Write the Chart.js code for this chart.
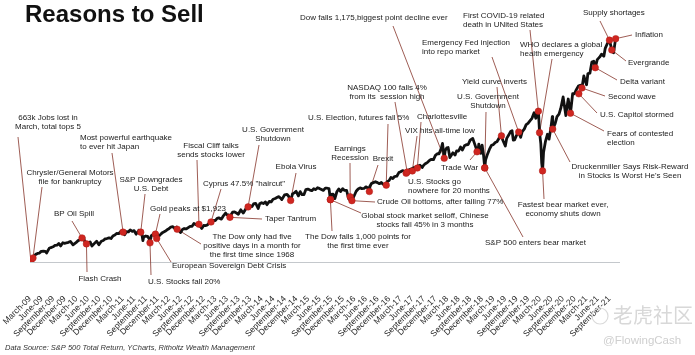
<!DOCTYPE html>
<html>
<head>
<meta charset="utf-8">
<script src="https://cdn.jsdelivr.net/npm/chart.js@4.4.0/dist/chart.umd.min.js"></script>
<style>
html,body{margin:0;padding:0;background:#fff;}
#wrap{width:695px;height:355px;position:relative;}
</style>
</head>
<body>
<div id="wrap"><canvas id="c"></canvas></div>
<script>
// ---------- DATA ----------
const quarterLabels = [
 "March-09","June-09","September-09","December-09",
 "March-10","June-10","September-10","December-10",
 "March-11","June-11","September-11","December-11",
 "March-12","June-12","September-12","December-12",
 "March-13","June-13","September-13","December-13",
 "March-14","June-14","September-14","December-14",
 "March-15","June-15","September-15","December-15",
 "March-16","June-16","September-16","December-16",
 "March-17","June-17","September-17","December-17",
 "March-18","June-18","September-18","December-18",
 "March-19","June-19","September-19","December-19",
 "March-20","June-20","September-20","December-20",
 "March-21","June-21","September-21"
];

// S&P 500 total return, indexed (March 9, 2009 = 100)
const seriesDates = [
 "2009-03-09","2009-03-13","2009-03-31","2009-04-15","2009-04-30","2009-05-15","2009-05-29","2009-06-15","2009-06-30","2009-07-10","2009-07-31","2009-08-14","2009-08-31","2009-09-15","2009-09-30","2009-10-15","2009-10-30","2009-11-16","2009-11-30","2009-12-15","2009-12-31",
 "2010-01-15","2010-02-05","2010-02-26","2010-03-15","2010-03-31","2010-04-23","2010-04-30","2010-05-06","2010-05-20","2010-05-31","2010-06-18","2010-07-02","2010-07-30","2010-08-09","2010-08-27","2010-09-15","2010-09-30","2010-10-15","2010-10-29","2010-11-15","2010-11-30","2010-12-15","2010-12-31",
 "2011-01-14","2011-01-31","2011-02-18","2011-02-28","2011-03-16","2011-03-31","2011-04-15","2011-04-29","2011-05-16","2011-05-31","2011-06-15","2011-06-30","2011-07-07","2011-07-29","2011-08-08","2011-08-15","2011-08-31","2011-09-15","2011-09-30","2011-10-03","2011-10-14","2011-10-31","2011-11-15","2011-11-25","2011-11-30","2011-12-15","2011-12-30",
 "2012-01-13","2012-01-31","2012-02-15","2012-02-29","2012-03-15","2012-03-30","2012-04-16","2012-04-30","2012-05-15","2012-06-01","2012-06-15","2012-06-29","2012-07-16","2012-07-31","2012-08-15","2012-08-31","2012-09-14","2012-09-28","2012-10-15","2012-10-31","2012-11-15","2012-11-30","2012-12-14","2012-12-31",
 "2013-01-15","2013-01-31","2013-02-15","2013-02-28","2013-03-15","2013-03-28","2013-04-18","2013-04-30","2013-05-21","2013-05-31","2013-06-14","2013-06-24","2013-06-28","2013-07-15","2013-07-31","2013-08-15","2013-08-30","2013-09-18","2013-09-30","2013-10-08","2013-10-31","2013-11-15","2013-11-29","2013-12-16","2013-12-31",
 "2014-01-15","2014-02-03","2014-02-14","2014-02-28","2014-03-14","2014-03-31","2014-04-11","2014-04-30","2014-05-15","2014-05-30","2014-06-16","2014-06-30","2014-07-15","2014-07-31","2014-08-07","2014-08-29","2014-09-18","2014-09-30","2014-10-15","2014-10-31","2014-11-14","2014-11-28","2014-12-16","2014-12-31",
 "2015-01-15","2015-01-30","2015-02-13","2015-02-27","2015-03-16","2015-03-31","2015-04-15","2015-04-30","2015-05-15","2015-05-29","2015-06-15","2015-06-30","2015-07-15","2015-07-31","2015-08-14","2015-08-25","2015-08-31","2015-09-15","2015-09-29","2015-10-15","2015-10-30","2015-11-13","2015-11-30","2015-12-15","2015-12-31",
 "2016-01-15","2016-01-20","2016-01-29","2016-02-11","2016-02-29","2016-03-15","2016-03-31","2016-04-15","2016-04-29","2016-05-16","2016-05-31","2016-06-15","2016-06-27","2016-06-30","2016-07-15","2016-07-29","2016-08-15","2016-08-31","2016-09-15","2016-09-30","2016-10-14","2016-10-31","2016-11-04","2016-11-15","2016-11-30","2016-12-15","2016-12-30",
 "2017-01-13","2017-01-31","2017-02-15","2017-02-28","2017-03-15","2017-03-31","2017-04-13","2017-04-28","2017-05-15","2017-05-31","2017-06-15","2017-06-30","2017-07-14","2017-07-31","2017-08-18","2017-08-31","2017-09-15","2017-09-29","2017-10-16","2017-10-31","2017-11-15","2017-11-30","2017-12-15","2017-12-29",
 "2018-01-16","2018-01-26","2018-02-08","2018-02-15","2018-02-26","2018-03-09","2018-03-23","2018-04-16","2018-05-03","2018-05-15","2018-05-31","2018-06-15","2018-06-29","2018-07-16","2018-07-31","2018-08-15","2018-08-31","2018-09-20","2018-10-15","2018-10-29","2018-11-07","2018-11-23","2018-12-03","2018-12-14","2018-12-24","2018-12-31",
 "2019-01-15","2019-01-31","2019-02-15","2019-02-28","2019-03-15","2019-03-29","2019-04-15","2019-04-30","2019-05-15","2019-06-03","2019-06-14","2019-06-28","2019-07-15","2019-07-26","2019-08-05","2019-08-15","2019-08-30","2019-09-16","2019-10-02","2019-10-15","2019-10-31","2019-11-15","2019-11-29","2019-12-16","2019-12-31",
 "2020-01-17","2020-01-31","2020-02-19","2020-02-28","2020-03-09","2020-03-16","2020-03-23","2020-03-31","2020-04-15","2020-04-30","2020-05-13","2020-05-29","2020-06-08","2020-06-11","2020-06-30","2020-07-15","2020-07-31","2020-08-14","2020-09-02","2020-09-23","2020-09-30","2020-10-12","2020-10-30","2020-11-16","2020-11-30","2020-12-15","2020-12-31",
 "2021-01-15","2021-01-29","2021-02-12","2021-02-26","2021-03-04","2021-03-15","2021-03-31","2021-04-15","2021-04-30","2021-05-12","2021-05-28","2021-06-15","2021-06-30","2021-07-19","2021-07-30","2021-08-16","2021-08-31","2021-09-02","2021-09-20","2021-09-30","2021-10-04","2021-10-15","2021-10-21"
];
const totalReturnValues = [
 100.0,111.9,118.1,126.3,129.5,130.9,136.6,137.3,136.8,130.9,147.2,149.8,152.4,157.2,158.1,164.1,155.3,166.3,164.5,166.3,167.7,
 171.0,159.1,166.6,173.7,176.7,184.2,179.6,170.8,162.5,165.2,169.4,155.3,167.6,171.8,159.6,171.6,174.2,179.7,181.0,183.4,180.9,189.4,193.0,
 198.6,197.7,206.7,204.4,193.6,204.5,203.6,210.7,205.5,208.2,195.9,204.7,210.0,200.7,173.9,187.1,189.6,188.2,176.3,171.3,190.9,195.6,196.5,181.1,195.0,190.1,197.0,
 202.1,205.9,211.0,214.6,220.5,221.7,215.7,220.4,209.9,201.9,212.3,215.5,214.2,218.6,222.9,223.3,232.8,229.1,229.2,224.9,215.7,226.0,225.7,227.9,
 235.5,239.9,243.4,242.9,250.6,252.1,247.8,257.1,268.9,262.9,262.3,253.9,259.4,271.8,272.7,268.9,264.6,279.9,272.9,268.9,285.6,292.6,294.1,291.1,301.5,
 301.7,284.6,300.6,304.3,301.5,306.9,297.7,309.3,307.3,316.4,318.9,323.0,325.3,318.6,315.2,331.2,332.8,326.6,308.6,334.8,338.5,343.6,328.0,342.7,
 332.0,332.6,349.8,351.5,347.9,346.0,352.7,349.6,356.1,353.8,350.2,347.0,354.6,354.4,352.7,315.0,332.8,334.1,318.5,342.2,352.1,342.8,352.9,346.8,347.3,
 319.7,316.2,330.2,311.5,329.3,343.9,351.7,355.6,353.2,353.6,359.2,355.3,343.2,360.2,371.3,373.6,376.8,373.8,370.0,374.0,368.2,367.3,360.3,377.0,380.6,391.8,388.1,
 394.7,395.8,408.3,411.2,415.3,411.8,406.2,416.2,419.7,421.8,425.8,424.5,431.1,433.5,426.1,434.4,439.8,443.6,450.6,454.2,452.8,467.7,473.2,473.1,
 491.9,509.2,457.7,484.5,493.5,494.8,460.0,476.5,468.6,483.3,482.7,496.5,485.9,500.6,504.3,505.0,520.4,526.3,494.5,475.2,506.6,474.5,503.1,469.1,424.4,452.7,
 471.9,489.1,502.6,504.6,511.9,514.6,527.8,535.7,518.9,499.9,526.4,536.8,550.4,553.0,520.1,521.0,535.8,549.2,529.7,550.0,558.1,573.7,578.0,587.7,595.6,
 614.7,595.7,626.0,546.3,508.2,441.6,414.2,478.8,516.0,540.4,523.6,565.8,601.0,558.3,577.2,601.4,610.1,629.6,669.0,604.9,629.4,662.0,613.0,680.5,680.1,694.3,706.6,
 709.4,699.9,741.8,719.4,711.3,749.9,751.2,789.2,792.0,769.8,797.7,806.3,816.8,809.7,836.8,853.4,862.5,865.3,831.3,822.9,821.6,854.8,870.2
];

// Events marked with red dots
const eventTexts = [
 ["663k Jobs lost in","March, total tops 5"],
 ["Chrysler/General Motors","file for bankruptcy"],
 ["BP Oil Spill"],
 ["Flash Crash"],
 ["Most powerful earthquake","to ever hit Japan"],
 ["S&P Downgrades","U.S. Debt"],
 ["U.S. Stocks fall 20%"],
 ["Gold peaks at $1,923"],
 ["European Sovereign Debt Crisis"],
 ["The Dow only had five","positive days in a month for","the first time since 1968"],
 ["Fiscal Cliff talks","sends stocks lower"],
 ["Cyprus 47.5% \"haircut\""],
 ["Taper Tantrum"],
 ["U.S. Government","Shutdown"],
 ["Ebola Virus"],
 ["The Dow falls 1,000 points for","the first time ever"],
 ["Global stock market selloff, Chinese","stocks fall 45% in 3 months"],
 ["Earnings","Recession"],
 ["Crude Oil bottoms, after falling 77%"],
 ["Brexit"],
 ["U.S. Election, futures fall 5%"],
 ["U.S. Stocks go","nowhere for 20 months"],
 ["NASDAQ 100 falls 4%","from its  session high"],
 ["VIX hits all-time low"],
 ["Charlottesville"],
 ["Dow falls 1,175,biggest point decline ever"],
 ["Trade War"],
 ["U.S. Government","Shutdown"],
 ["S&P 500 enters bear market"],
 ["Yield curve inverts"],
 ["Emergency Fed injection","into repo market"],
 ["First COVID-19 related","death in UNited States"],
 ["WHO declares a global","health emergency"],
 ["Fastest bear market ever,","economy shuts down"],
 ["Druckenmiller Says Risk-Reward","in Stocks Is Worst He's Seen"],
 ["Fears of contested","election"],
 ["U.S. Capitol stormed"],
 ["Second wave"],
 ["Delta variant"],
 ["Supply shortages"],
 ["Evergrande"],
 ["Inflation"]
];
const eventDates = [
 "2009-03-09","2009-03-25","2010-04-15","2010-05-20","2011-03-04","2011-07-22","2011-10-03","2011-11-15","2011-11-25","2012-05-04",
 "2012-10-24","2013-01-28","2013-06-24","2013-11-15","2014-10-16","2015-08-25","2015-08-25","2016-01-29","2016-02-11","2016-06-27",
 "2016-11-08","2017-04-13","2017-04-21","2017-06-01","2017-07-10","2018-02-08","2018-10-24","2018-12-24","2018-12-24","2019-05-03",
 "2019-09-17","2020-02-19","2020-02-28","2020-03-23","2020-06-11","2020-10-30","2021-01-04","2021-01-29","2021-05-12","2021-09-02",
 "2021-09-20","2021-10-21"
];
const eventValues = [
 100,114,183,162.5,203,203,166,196,181,213,
 230,238,254,290,312,315,315,325,311.5,343,
 365,406,410,414,424,457.7,480,424.4,424.4,535,
 548,620,546,414.2,558.3,613,680,700,770,865,
 831,870
];

// ---------- LAYOUT (callout label placement, pixels) ----------
const calloutLayout = [
 {x:48,y:118,a:"center",from:[18,137]},
 {x:70,y:173,a:"center",from:[42,187]},
 {x:74,y:214,a:"center",from:[72,221]},
 {x:100,y:279,a:"center",from:[87,272]},
 {x:80,y:138,a:"left",from:[112,153]},
 {x:151,y:180,a:"center",from:[145,194]},
 {x:148,y:282,a:"left",from:[151,275]},
 {x:150,y:209,a:"left",from:[160,214]},
 {x:172,y:266,a:"left",from:[171,262]},
 {x:252,y:237,a:"center",from:[201,244]},
 {x:211,y:146,a:"center",from:[197,160]},
 {x:203,y:184,a:"left",from:[221,189]},
 {x:265,y:219,a:"left",from:[262,219]},
 {x:273,y:130,a:"center",from:[259,145]},
 {x:296,y:167,a:"center",from:[296,173]},
 {x:358,y:237,a:"center",from:[332,231]},
 {x:425,y:216,a:"center",from:[361,213]},
 {x:350,y:149,a:"center",from:[350,163]},
 {x:377,y:202,a:"left",from:[375,202]},
 {x:383,y:159,a:"center",from:[378,165]},
 {x:308,y:118,a:"left",from:[388,124]},
 {x:408,y:182,a:"left",from:null},
 {x:387,y:88,a:"center",from:[395,102]},
 {x:405,y:131,a:"left",from:[417,136]},
 {x:417,y:117,a:"left",from:[421,122]},
 {x:300,y:18,a:"left",from:[393,26]},
 {x:441,y:168,a:"left",from:[470,160]},
 {x:488,y:97,a:"center",from:[486,112]},
 {x:485,y:243,a:"left",from:[523,237]},
 {x:462,y:82,a:"left",from:[497,87]},
 {x:422,y:43,a:"left",from:[492,57]},
 {x:463,y:16,a:"left",from:[530,30]},
 {x:520,y:45,a:"left",from:[552,59]},
 {x:563,y:205,a:"center",from:[544,199]},
 {x:630,y:167,a:"center",from:[570,162]},
 {x:607,y:134,a:"left",from:[604,131]},
 {x:600,y:115,a:"left",from:[597,113]},
 {x:608,y:97,a:"left",from:[605,96]},
 {x:620,y:82,a:"left",from:[617,80]},
 {x:583,y:13,a:"left",from:[600,21]},
 {x:628,y:63,a:"left",from:[626,61]},
 {x:635,y:35,a:"left",from:[632,35]}
];

const FONT = '"Liberation Sans", Arial, sans-serif';

// months since March 1, 2009
function monthsSinceStart(s){
  const p = s.split('-').map(Number);
  const dim = new Date(p[0], p[1], 0).getDate();
  return (p[0]-2009)*12 + (p[1]-3) + (p[2]-1)/dim;
}

const linePoints = seriesDates.map((d,i)=>({x:monthsSinceStart(d), y:totalReturnValues[i]}));
const dotPoints = eventDates.map((d,i)=>({x:monthsSinceStart(d), y:eventValues[i]}));

const calloutPlugin = {
  id:'callouts',
  beforeDatasetsDraw(chart){
    const {ctx, scales:{x, y}} = chart;
    ctx.save();
    ctx.strokeStyle = 'rgba(135,55,45,0.9)';
    ctx.lineWidth = 0.9;
    calloutLayout.forEach((c,i)=>{
      if(!c.from) return;
      const px = x.getPixelForValue(monthsSinceStart(eventDates[i]));
      const py = y.getPixelForValue(eventValues[i]);
      ctx.beginPath(); ctx.moveTo(c.from[0], c.from[1]); ctx.lineTo(px, py); ctx.stroke();
    });
    ctx.restore();
  },
  afterDraw(chart){
    const ctx = chart.ctx;
    ctx.save();
    ctx.fillStyle = '#222';
    ctx.font = '8px ' + FONT;
    ctx.textBaseline = 'middle';
    calloutLayout.forEach((c,i)=>{
      ctx.textAlign = c.a;
      eventTexts[i].forEach((t,k)=> ctx.fillText(t, c.x, c.y + k*9));
    });
    ctx.textAlign = 'left';
    ctx.textBaseline = 'alphabetic';
    ctx.fillStyle = '#111';
    ctx.font = 'bold 24px ' + FONT;
    ctx.fillText('Reasons to Sell', 25, 22);
    ctx.fillStyle = '#333';
    ctx.font = 'italic 7.5px ' + FONT;
    ctx.fillText('Data Source: S&P 500 Total Return, YCharts, Ritholtz Wealth Management', 5, 350);
    ctx.strokeStyle = '#dadada'; ctx.lineWidth = 1.2;
    ctx.beginPath(); ctx.arc(600, 316, 8, 0, Math.PI*2); ctx.stroke();
    ctx.fillStyle = '#d8d8d8';
    ctx.font = '20px "Noto Sans CJK SC", sans-serif';
    ctx.fillText('老虎社区', 613, 323);
    ctx.fillStyle = '#cfcfcf';
    ctx.font = '11.5px ' + FONT;
    ctx.fillText('@FlowingCash', 603, 344);
    ctx.restore();
  }
};

new Chart(document.getElementById('c'), {
  type:'line',
  data:{
    datasets:[
      {data:dotPoints, showLine:false, pointRadius:3.3, pointBackgroundColor:'#cf2620', pointBorderColor:'#b01c18', pointBorderWidth:0.5, order:0},
      {data:linePoints, borderColor:'#111', borderWidth:2.8, pointRadius:0, tension:0, borderJoinStyle:'round', order:1}
    ]
  },
  options:{
    responsive:true, maintainAspectRatio:false, animation:false, devicePixelRatio:1,
    layout:{padding:{left:30, right:76, top:30, bottom:13}},
    plugins:{legend:{display:false}, tooltip:{enabled:false}, title:{display:false}},
    scales:{
      x:{
        type:'linear', min:0, max:152.5,
        grid:{display:false, drawTicks:false},
        border:{display:true, color:'#c4c8cc', width:1},
        afterBuildTicks:(axis)=>{ axis.ticks = quarterLabels.map((l,i)=>({value:i*3})); },
        afterFit:(scale)=>{ scale.height = 80; scale.paddingLeft = 0; scale.paddingRight = 0; },
        ticks:{
          autoSkip:false, minRotation:45, maxRotation:45, padding:32,
          color:'#2a2a2a', font:{family:FONT, size:8.5},
          callback:(v)=> quarterLabels[Math.round(v/3)]
        }
      },
      y:{ type:'linear', min:100, max:900, display:false }
    }
  },
  plugins:[calloutPlugin]
});
</script>
</body>
</html>
